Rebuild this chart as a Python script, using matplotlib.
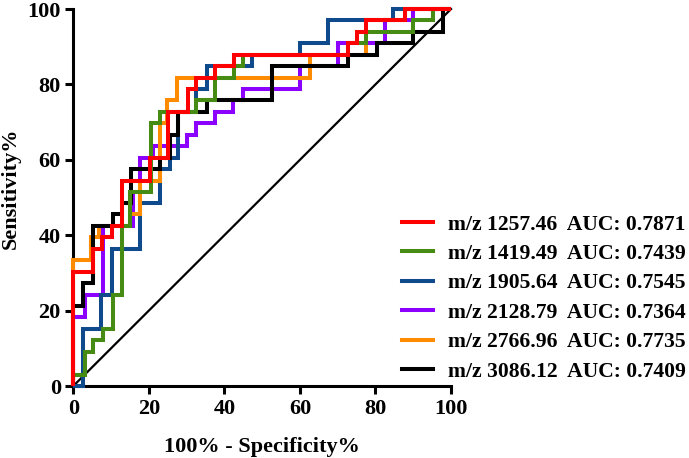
import matplotlib
matplotlib.use("Agg")
import matplotlib.pyplot as plt
from matplotlib.lines import Line2D

plt.rcParams['font.family'] = ['Liberation Serif', 'DejaVu Serif']
plt.rcParams['font.weight'] = 'bold'

# ---- data (ROC step vertices, % units) ----
mz_labels = ["m/z 1257.46", "m/z 1419.49", "m/z 1905.64", "m/z 2128.79", "m/z 2766.96", "m/z 3086.12"]
auc_values = ["0.7871", "0.7439", "0.7545", "0.7364", "0.7735", "0.7409"]
colors = ["#FF0000", "#468C14", "#0F4B8C", "#8C00FF", "#FF8C00", "#000000"]

red_x = [0, 0, 5.3, 5.3, 7.5, 7.5, 10.2, 10.2, 12.8, 12.8, 20.3, 20.3, 25.1, 25.1, 30.4, 30.4, 32.6, 32.6,
         37.5, 37.5, 42.5, 42.5, 72.8, 72.8, 75.0, 75.0, 77.4, 77.4, 87.8, 87.8, 100]
red_y = [0, 30.3, 30.3, 36.4, 36.4, 39.4, 39.4, 42.4, 42.4, 54.5, 54.5, 60.6, 60.6, 72.7, 72.7, 78.8, 78.8, 81.8,
         81.8, 84.8, 84.8, 87.9, 87.9, 90.9, 90.9, 93.9, 93.9, 97.0, 97.0, 100, 100]

green_x = [0, 0, 3.2, 3.2, 5.3, 5.3, 7.9, 7.9, 10.4, 10.4, 12.8, 12.8, 15.0, 15.0, 20.5, 20.5, 22.9, 22.9,
           32.6, 32.6, 37.5, 37.5, 42.5, 42.5, 45.0, 45.0, 72.8, 72.8, 77.4, 77.4, 90.0, 90.0, 95.2, 95.2, 100]
green_y = [0, 3.0, 3.0, 9.1, 9.1, 12.1, 12.1, 15.2, 15.2, 24.2, 24.2, 42.4, 42.4, 51.5, 51.5, 69.7, 69.7, 72.7,
           72.7, 75.8, 75.8, 81.8, 81.8, 84.8, 84.8, 87.9, 87.9, 90.9, 90.9, 93.9, 93.9, 97.0, 97.0, 100, 100]

blue_x = [0, 2.6, 2.6, 7.3, 7.3, 10.2, 10.2, 17.6, 17.6, 22.9, 22.9, 25.6, 25.6, 27.8, 27.8, 32.6, 32.6,
          35.3, 35.3, 47.4, 47.4, 60.0, 60.0, 67.5, 67.5, 84.7, 84.7, 100]
blue_y = [0, 0, 15.2, 15.2, 24.2, 24.2, 36.4, 36.4, 48.5, 48.5, 57.6, 57.6, 60.6, 60.6, 72.7, 72.7, 78.8,
          78.8, 84.8, 84.8, 87.9, 87.9, 90.9, 90.9, 97.0, 97.0, 100, 100]

purple_x = [0, 0, 3.0, 3.0, 7.8, 7.8, 15.9, 15.9, 17.6, 17.6, 21.0, 21.0, 30.0, 30.0, 32.6, 32.6, 37.5, 37.5,
            42.3, 42.3, 45.0, 45.0, 60.0, 60.0, 70.1, 70.1, 82.5, 82.5, 90.0, 90.0, 100]
purple_y = [0, 18.2, 18.2, 24.2, 24.2, 42.4, 42.4, 51.5, 51.5, 60.6, 60.6, 63.6, 63.6, 66.7, 66.7, 69.7, 69.7, 72.7,
            72.7, 75.8, 75.8, 78.8, 78.8, 84.8, 84.8, 90.9, 90.9, 97.0, 97.0, 100, 100]

orange_x = [0, 0, 4.6, 4.6, 6.8, 6.8, 15.0, 15.0, 17.6, 17.6, 22.9, 22.9, 24.7, 24.7, 27.4, 27.4, 62.6, 62.6,
            77.4, 77.4, 77.6, 77.6, 87.8, 87.8, 100]
orange_y = [0, 33.3, 33.3, 39.4, 39.4, 42.4, 42.4, 45.5, 45.5, 54.5, 54.5, 69.7, 69.7, 75.8, 75.8, 81.8, 81.8, 87.9,
            87.9, 93.9, 93.9, 97.0, 97.0, 100, 100]

black_x = [0, 0, 2.6, 2.6, 5.3, 5.3, 10.6, 10.6, 12.8, 12.8, 15.4, 15.4, 22.9, 22.9, 25.6, 25.6, 27.8, 27.8,
           35.3, 35.3, 52.5, 52.5, 72.8, 72.8, 80.3, 80.3, 90.0, 90.0, 97.9, 97.9, 100]
black_y = [0, 21.2, 21.2, 27.3, 27.3, 42.4, 42.4, 45.5, 45.5, 48.5, 48.5, 57.6, 57.6, 60.6, 60.6, 66.7, 66.7, 72.7,
           72.7, 75.8, 75.8, 84.8, 84.8, 87.9, 87.9, 90.9, 90.9, 93.9, 93.9, 100, 100]

ref_x = [0, 100]
ref_y = [0, 100]

series = [(red_x, red_y), (green_x, green_y), (blue_x, blue_y),
          (purple_x, purple_y), (orange_x, orange_y), (black_x, black_y)]
# drawing order (bottom -> top)
draw_order = [3, 2, 4, 5, 1, 0]

fig = plt.figure(figsize=(6.89, 4.58), dpi=100)
ax = fig.add_axes([0.1064, 0.1572, 0.5482, 0.8231])

ax.plot(ref_x, ref_y, color='black', lw=1.6, zorder=2, clip_on=False)
for k, i in enumerate(draw_order):
    xs, ys = series[i]
    ax.plot(xs, ys, color=colors[i], lw=2.9, zorder=3 + k, clip_on=False,
            solid_joinstyle='miter', solid_capstyle='butt')

ax.set_xlim(0, 100)
ax.set_ylim(0, 100)
ax.set_xticks([0, 20, 40, 60, 80, 100])
ax.set_yticks([0, 20, 40, 60, 80, 100])
for s in ['top', 'right']:
    ax.spines[s].set_visible(False)
for s in ['left', 'bottom']:
    ax.spines[s].set_linewidth(2.2)
ax.tick_params(direction='out', length=6, width=2.2, labelsize=16, pad=3)
for lab in ax.get_xticklabels() + ax.get_yticklabels():
    lab.set_fontweight('bold')

ax.set_xlabel("100% - Specificity%", fontsize=16, fontweight='bold')
ax.set_ylabel("Sensitivity%", fontsize=16, fontweight='bold')
ax.xaxis.set_label_coords(0.5, -0.136)
ax.yaxis.set_label_coords(-0.14, 0.525)

handles = [Line2D([0], [0], color=c, lw=2.9) for c in colors]
labels = [f"{m}  AUC: {a}" for m, a in zip(mz_labels, auc_values)]
leg = ax.legend(handles, labels, loc='upper left', bbox_to_anchor=(0.583, 0.532),
                bbox_transform=fig.transFigure, frameon=False, borderpad=0, borderaxespad=0,
                handlelength=1.45, handletextpad=0.7, labelspacing=0.43,
                prop={'size': 15.6, 'weight': 'bold'})

fig.savefig("out.png", dpi=100)
